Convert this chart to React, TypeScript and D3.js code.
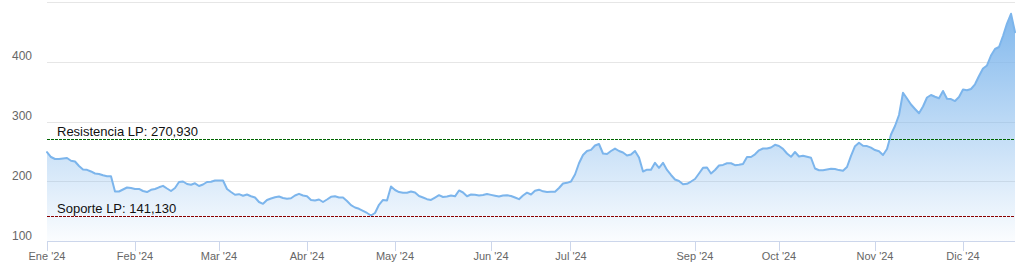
import React from "react";
import * as d3 from "d3";

// Daily closing values
const values: number[] = [
  249.5, 241.4, 238.1, 238.1, 238.9, 239.7, 235.1, 233.9, 226.4, 220.5,
  220.0, 217.2, 213.8, 213.0, 210.8, 209.3, 209.3, 183.7, 183.7, 187.0,
  190.4, 189.5, 187.9, 187.9, 184.5, 182.8, 186.5, 187.9, 190.7, 193.2,
  188.7, 184.5, 189.5, 199.6, 200.4, 196.2, 194.9, 197.4, 192.9, 195.4,
  199.6, 199.9, 202.1, 202.1, 202.1, 187.9, 182.8, 178.2, 179.2, 176.5,
  178.7, 175.8, 173.6, 166.1, 163.1, 169.5, 172.0, 174.0, 175.3, 172.8,
  171.5, 172.3, 177.0, 179.8, 177.0, 175.8, 169.5, 168.6, 170.3, 166.1,
  170.3, 174.8, 175.6, 173.6, 173.6, 167.8, 160.8, 156.9, 154.7, 151.4,
  147.7, 143.5, 147.7, 161.4, 169.5, 168.6, 192.0, 186.2, 182.8, 181.5,
  181.7, 183.7, 182.0, 176.1, 173.6, 170.8, 169.5, 173.6, 177.5, 174.5,
  175.3, 177.0, 175.6, 185.4, 182.0, 175.8, 178.7, 178.2, 177.0, 177.8,
  179.5, 178.0, 176.6, 175.3, 177.0, 177.5, 176.1, 173.6, 170.8, 177.0,
  181.7, 178.7, 184.9, 186.7, 184.0, 182.7, 183.2, 183.2, 189.5, 197.1,
  198.2, 200.4, 212.1, 231.0, 244.8, 251.5, 253.3, 260.7, 263.2, 247.3,
  246.4, 251.5, 255.6, 251.5, 249.0, 243.9, 245.6, 251.5, 240.6, 217.2,
  220.2, 220.0, 231.7, 223.3, 231.7, 219.7, 211.3, 203.8, 201.3, 195.7,
  196.6, 200.4, 204.6, 213.8, 223.3, 223.8, 213.8, 219.7, 227.2, 228.2,
  230.9, 231.0, 227.7, 228.4, 229.7, 241.4, 241.4, 245.9, 252.6, 255.6,
  255.6, 257.3, 261.8, 259.8, 255.1, 247.3, 241.8, 249.8, 242.3, 243.4,
  241.8, 240.2, 222.2, 219.2, 219.3, 220.5, 221.7, 221.2, 219.5, 218.3,
  224.7, 243.4, 259.5, 265.4, 260.2, 259.7, 257.0, 253.1, 251.0, 244.8,
  254.8, 279.1, 293.3, 311.7, 349.0, 339.3, 329.3, 321.8, 314.6, 325.9,
  341.0, 345.2, 342.2, 339.8, 351.9, 338.8, 338.3, 335.1, 341.8, 354.4,
  353.1, 355.2, 363.1, 377.0, 389.5, 394.6, 411.3, 422.2, 425.5, 443.9,
  464.8, 481.1, 450.3,
];

// Month ticks: label and index of the first trading day of the month
const monthLabels: string[] = [
  "Ene '24", "Feb '24", "Mar '24", "Abr '24", "May '24", "Jun '24",
  "Jul '24", "Sep '24", "Oct '24", "Nov '24", "Dic '24",
];
const monthIndices: number[] = [0, 22, 43, 65, 87, 111, 131, 162, 183, 207, 229];

const yGridValues: number[] = [200, 300, 400, 500];
const yLabelValues: number[] = [100, 200, 300, 400];

const resistance = 270.93;
const support = 141.13;
const resistanceLabel = "Resistencia LP: 270,930";
const supportLabel = "Soporte LP: 141,130";

const W = 1024;
const H = 269;
const FONT = "'Liberation Sans', Arial, sans-serif";

export default function App() {
  const x = d3.scaleLinear().domain([0, values.length - 1]).range([47, 1015]);
  const y = d3.scaleLinear().domain([100, 500]).range([241.5, 2.5]);

  const line = d3
    .line<number>()
    .x((_, i) => x(i))
    .y((d) => y(d));
  const area = d3
    .area<number>()
    .x((_, i) => x(i))
    .y0(y(100))
    .y1((d) => y(d));

  const crisp = (v: number) => Math.floor(v) + 0.5;
  const x0 = x(0);
  const x1 = x(values.length - 1);

  return (
    <div style={{ position: "absolute", left: 0, top: 0 }}>
      <svg width={W} height={H} style={{ display: "block", background: "#fff" }}>
        <defs>
          <linearGradient id="areaGrad" x1="0" y1="0" x2="0" y2="1">
            <stop offset="0" stopColor="#7cb5ec" stopOpacity={0.95} />
            <stop offset="1" stopColor="#7cb5ec" stopOpacity={0.03} />
          </linearGradient>
        </defs>

        {/* grid lines */}
        {yGridValues.map((v) => (
          <line
            key={"g" + v}
            x1={x0}
            x2={x1}
            y1={crisp(y(v))}
            y2={crisp(y(v))}
            stroke="#e6e6e6"
            strokeWidth={1}
          />
        ))}

        {/* y labels */}
        {yLabelValues.map((v) => (
          <text
            key={"yl" + v}
            x={12}
            y={y(v) - 2}
            fontFamily={FONT}
            fontSize={12}
            fill="#666666"
          >
            {v}
          </text>
        ))}

        {/* area + line */}
        <path d={area(values) || ""} fill="url(#areaGrad)" />
        <path
          d={line(values) || ""}
          fill="none"
          stroke="#7cb5ec"
          strokeWidth={2}
          strokeLinejoin="round"
          strokeLinecap="round"
        />

        {/* resistance / support lines */}
        <line
          x1={x0}
          x2={x1}
          y1={crisp(y(resistance))}
          y2={crisp(y(resistance))}
          stroke="#006400"
          strokeWidth={1}
          strokeDasharray="3,1"
        />
        <text x={57} y={y(resistance) - 3} fontFamily={FONT} fontSize={13} fill="#111">
          {resistanceLabel}
        </text>
        <line
          x1={x0}
          x2={x1}
          y1={crisp(y(support))}
          y2={crisp(y(support))}
          stroke="#8b0000"
          strokeWidth={1}
          strokeDasharray="3,1"
        />
        <text x={57} y={y(support) - 4} fontFamily={FONT} fontSize={13} fill="#111">
          {supportLabel}
        </text>

        {/* x axis */}
        <line x1={x0} x2={x1} y1={crisp(y(100))} y2={crisp(y(100))} stroke="#ccd6eb" strokeWidth={1} />
        {monthIndices.map((idx, k) => (
          <g key={"t" + k}>
            <line
              x1={crisp(x(idx))}
              x2={crisp(x(idx))}
              y1={241}
              y2={251}
              stroke="#ccd6eb"
              strokeWidth={1}
            />
            <text
              x={x(idx)}
              y={260}
              textAnchor="middle"
              fontFamily={FONT}
              fontSize={11}
              fill="#666666"
            >
              {monthLabels[k]}
            </text>
          </g>
        ))}
      </svg>
    </div>
  );
}
